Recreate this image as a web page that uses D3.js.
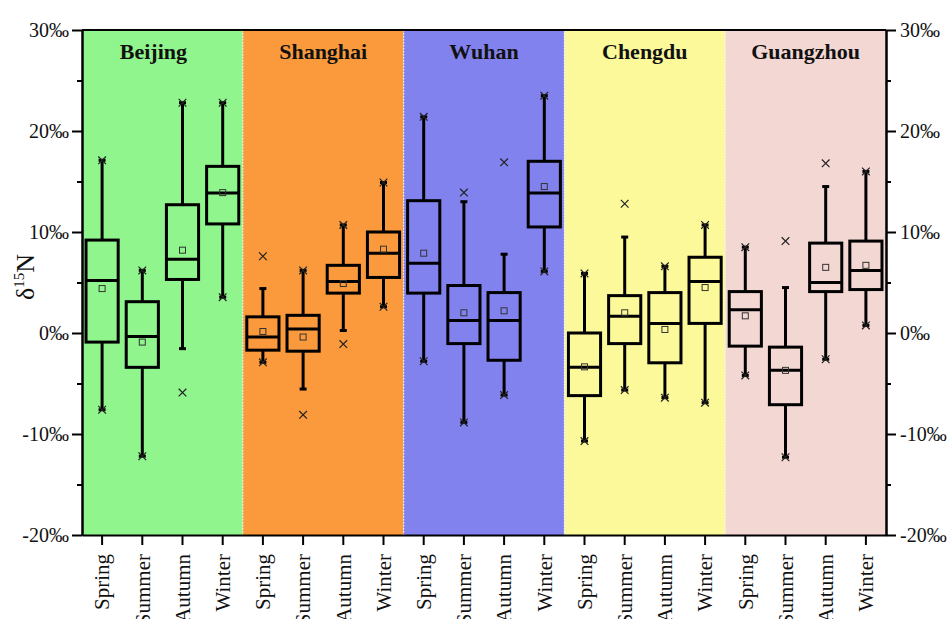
<!DOCTYPE html>
<html><head><meta charset="utf-8">
<script src="https://cdn.jsdelivr.net/npm/d3@7"></script>
<style>
html,body{margin:0;padding:0;background:#fff;}
svg{display:block;font-family:"Liberation Serif","Times New Roman",serif;}
</style></head>
<body><svg id="chart" width="952" height="619"></svg>
<script>
// δ15N by city and season (‰)
const cities = ["Beijing", "Shanghai", "Wuhan", "Chengdu", "Guangzhou"];
const seasons = ["Spring", "Summer", "Autumn", "Winter"];
const cityColors = ["#8ff58c", "#fa9a3c", "#8282ef", "#fbf99a", "#f3d7d3"];
const yTicks = [-20, -10, 0, 10, 20, 30];
const yMinorTicks = [-15, -5, 5, 15, 25];

// one row per city, one value per season
const maxVals = [
  [17.1, 6.2, 22.8, 22.8],
  [7.6, 6.2, 10.7, 14.9],
  [21.4, 13.9, 16.9, 23.5],
  [5.9, 12.8, 6.6, 10.7],
  [8.5, 9.1, 16.8, 16.0]
];
const whiskerHigh = [
  [17.1, 6.2, 22.8, 22.8],
  [4.4, 6.2, 10.7, 14.9],
  [21.4, 13.0, 7.8, 23.5],
  [5.9, 9.5, 6.6, 10.7],
  [8.5, 4.5, 14.5, 16.0]
];
const q3Vals = [
  [9.2, 3.1, 12.7, 16.5],
  [1.6, 1.75, 6.7, 10.0],
  [13.1, 4.7, 4.0, 17.0],
  [0.0, 3.7, 4.0, 7.5],
  [4.1, -1.4, 8.9, 9.1]
];
const medianVals = [
  [5.2, -0.35, 7.3, 13.85],
  [-0.4, 0.4, 5.1, 7.9],
  [6.9, 1.25, 1.25, 13.85],
  [-3.4, 1.65, 0.95, 5.1],
  [2.3, -3.7, 5.0, 6.2]
];
const meanVals = [
  [4.4, -0.9, 8.2, 13.9],
  [0.15, -0.4, 4.9, 8.3],
  [7.9, 2.0, 2.2, 14.5],
  [-3.35, 2.0, 0.35, 4.5],
  [1.7, -3.7, 6.5, 6.7]
];
const q1Vals = [
  [-0.9, -3.4, 5.3, 10.8],
  [-1.7, -1.8, 3.95, 5.5],
  [3.95, -1.05, -2.7, 10.5],
  [-6.2, -1.05, -2.95, 0.95],
  [-1.3, -7.1, 4.1, 4.3]
];
const whiskerLow = [
  [-7.6, -12.2, -1.55, 3.55],
  [-2.9, -5.55, 0.25, 2.6],
  [-2.8, -8.85, -6.15, 6.1],
  [-10.7, -5.65, -6.4, -6.9],
  [-4.2, -12.3, -2.6, 0.75]
];
const minVals = [
  [-7.6, -12.2, -5.9, 3.55],
  [-2.9, -8.1, -1.1, 2.6],
  [-2.8, -8.85, -6.15, 6.1],
  [-10.7, -5.65, -6.4, -6.9],
  [-4.2, -12.3, -2.6, 0.75]
];

const rows = [];
cities.forEach((c, ci) => seasons.forEach((s, si) => rows.push({
  key: c + "|" + s, city: c, season: s,
  max: maxVals[ci][si], wHi: whiskerHigh[ci][si], q3: q3Vals[ci][si],
  med: medianVals[ci][si], mean: meanVals[ci][si], q1: q1Vals[ci][si],
  wLo: whiskerLow[ci][si], min: minVals[ci][si]
})));

const W = 952, H = 619;
const m = {left: 82, right: 66, top: 30, bottom: 84};
const svg = d3.select("#chart");

const x = d3.scaleBand().domain(rows.map(d => d.key))
  .range([m.left, W - m.right]).padding(0);
const y = d3.scaleLinear().domain([-20, 30]).range([H - m.bottom, m.top]);
const bw = x.bandwidth();

// city background panels
const panels = svg.append("g");
cities.forEach((c, ci) => {
  const x0 = x(c + "|" + seasons[0]);
  const x1 = x(c + "|" + seasons[seasons.length - 1]) + bw;
  panels.append("rect").attr("x", x0).attr("y", y(30))
    .attr("width", x1 - x0).attr("height", y(-20) - y(30))
    .attr("fill", cityColors[ci]);
  if (ci > 0) {
    panels.append("line").attr("x1", x0).attr("x2", x0)
      .attr("y1", y(30)).attr("y2", y(-20))
      .attr("stroke", "#f4f4f4").attr("stroke-width", 1.2)
      .attr("stroke-dasharray", "1.5,1.5");
  }
  panels.append("text").attr("x", (x0 + x1) / 2 - (ci === 0 ? 9 : 0)).attr("y", 59)
    .attr("text-anchor", "middle").attr("font-weight", "bold")
    .attr("font-size", 22).attr("fill", "#111").text(c);
});

// box plots
const g = svg.append("g").selectAll("g").data(rows).join("g")
  .attr("transform", d => `translate(${x(d.key) + bw / 2},0)`);
const boxW = bw * 0.8, capW = 7, sw = 3;

g.append("line").attr("x1", 0).attr("x2", 0)
  .attr("y1", d => y(d.q3)).attr("y2", d => y(d.wHi))
  .attr("stroke", "#000").attr("stroke-width", sw);
g.append("line").attr("x1", 0).attr("x2", 0)
  .attr("y1", d => y(d.q1)).attr("y2", d => y(d.wLo))
  .attr("stroke", "#000").attr("stroke-width", sw);
g.append("line").attr("x1", -capW / 2).attr("x2", capW / 2)
  .attr("y1", d => y(d.wHi)).attr("y2", d => y(d.wHi))
  .attr("stroke", "#000").attr("stroke-width", sw);
g.append("line").attr("x1", -capW / 2).attr("x2", capW / 2)
  .attr("y1", d => y(d.wLo)).attr("y2", d => y(d.wLo))
  .attr("stroke", "#000").attr("stroke-width", sw);
g.append("rect").attr("x", -boxW / 2).attr("width", boxW)
  .attr("y", d => y(d.q3)).attr("height", d => y(d.q1) - y(d.q3))
  .attr("fill", "none").attr("stroke", "#000").attr("stroke-width", sw);
g.append("line").attr("x1", -boxW / 2).attr("x2", boxW / 2)
  .attr("y1", d => y(d.med)).attr("y2", d => y(d.med))
  .attr("stroke", "#000").attr("stroke-width", sw);
// mean marker
g.append("rect").attr("x", -3).attr("width", 6)
  .attr("y", d => y(d.mean) - 3).attr("height", 6)
  .attr("fill", "none").attr("stroke", "#333").attr("stroke-width", 1);
// extreme markers
const cross = d3.symbol().type(d3.symbolX).size(40);
g.append("path").attr("d", cross).attr("transform", d => `translate(0,${y(d.max)})`)
  .attr("fill", "none").attr("stroke", "#222").attr("stroke-width", 1.2);
g.append("path").attr("d", cross).attr("transform", d => `translate(0,${y(d.min)})`)
  .attr("fill", "none").attr("stroke", "#222").attr("stroke-width", 1.2);

// axes
const fmt = d => d + "‰";
const styleAxis = sel => {
  sel.select(".domain").attr("stroke", "#000").attr("stroke-width", 2);
  sel.selectAll(".tick line").attr("stroke", "#000").attr("stroke-width", 2);
  sel.selectAll("text").attr("fill", "#111").attr("font-family", "Liberation Serif, Times New Roman, serif");
};

svg.append("g").attr("transform", `translate(${m.left},0)`)
  .call(d3.axisLeft(y).tickValues(yMinorTicks).tickSize(5).tickFormat("").tickSizeOuter(0))
  .call(styleAxis);
svg.append("g").attr("transform", `translate(${m.left},0)`)
  .call(d3.axisLeft(y).tickValues(yTicks).tickSize(10).tickPadding(3).tickFormat(fmt).tickSizeOuter(0))
  .call(styleAxis).call(s => s.selectAll("text").attr("font-size", 20));

svg.append("g").attr("transform", `translate(${W - m.right},0)`)
  .call(d3.axisRight(y).tickValues(yMinorTicks).tickSize(5).tickFormat("").tickSizeOuter(0))
  .call(styleAxis);
svg.append("g").attr("transform", `translate(${W - m.right},0)`)
  .call(d3.axisRight(y).tickValues(yTicks).tickSize(10).tickPadding(4).tickFormat(fmt).tickSizeOuter(0))
  .call(styleAxis).call(s => s.selectAll("text").attr("font-size", 20));

svg.append("g").attr("transform", `translate(0,${H - m.bottom})`)
  .call(d3.axisBottom(x).tickSize(10).tickSizeOuter(0).tickFormat(k => k.split("|")[1]))
  .call(styleAxis)
  .call(s => s.selectAll("text").attr("font-size", 21)
    .attr("transform", "rotate(-90)").attr("text-anchor", "end")
    .attr("x", -19).attr("y", 0).attr("dy", "0.35em"));

// top frame
svg.append("line").attr("x1", m.left).attr("x2", W - m.right)
  .attr("y1", m.top).attr("y2", m.top).attr("stroke", "#000").attr("stroke-width", 2);

// y title
const yt = svg.append("text").attr("transform", `translate(34,277) rotate(-90)`)
  .attr("text-anchor", "middle").attr("font-size", 26).attr("fill", "#111");
yt.append("tspan").text("δ");
yt.append("tspan").attr("font-size", 15).attr("dy", -10).text("15");
yt.append("tspan").attr("dy", 10).text("N");
</script></body></html>
